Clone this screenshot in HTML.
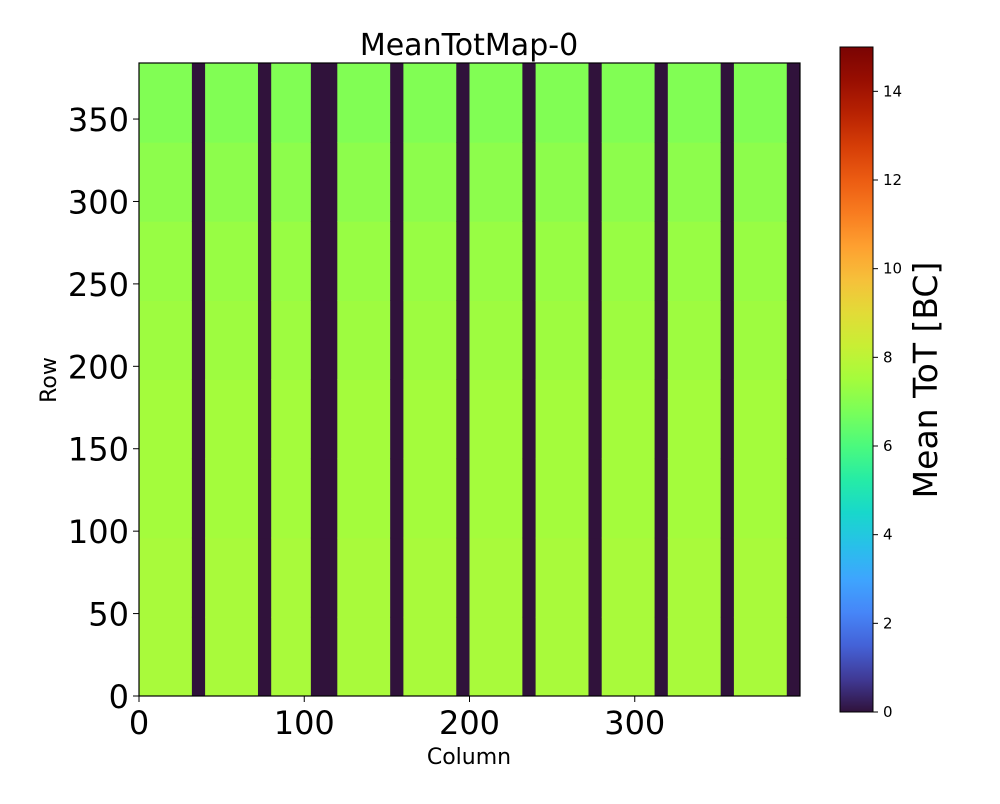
<!DOCTYPE html>
<html><head><meta charset="utf-8">
<style>
body{margin:0;background:#fff;font-family:"DejaVu Sans","Liberation Sans",sans-serif;}
svg text{font-family:"DejaVu Sans","Liberation Sans",sans-serif;fill:#000;}
</style></head>
<body>
<svg id="chart" width="1000" height="800">
<defs>
<linearGradient id="cbgrad" x1="0" y1="1" x2="0" y2="0"></linearGradient>
</defs>
<text x="469" y="55" font-size="30" text-anchor="middle">MeanTotMap-0</text>
<g id="cells"></g>
<rect x="139" y="63" width="661" height="633" fill="none" stroke="#000" stroke-width="1.2"/>
<g id="xaxis"></g>
<g id="yaxis"></g>
<text x="469" y="764" font-size="22" text-anchor="middle">Column</text>
<text transform="translate(56,380) rotate(-90)" font-size="22" text-anchor="middle">Row</text>
<rect x="840" y="47" width="33" height="665" fill="url(#cbgrad)" stroke="#000" stroke-width="1"/>
<g id="cbaxis"></g>
<text transform="translate(937,380) rotate(-90)" font-size="33" text-anchor="middle">Mean ToT [BC]</text>
</svg>
<script>
// Column segments and whether active
const segStarts = [0, 32, 40, 72, 80, 104, 120, 152, 160, 192, 200, 232, 240, 272, 280, 312, 320, 352, 360, 392];
const segEnds   = [32, 40, 72, 80, 104, 120, 152, 160, 192, 200, 232, 240, 272, 280, 312, 320, 352, 360, 392, 400];
const segActive = [1, 0, 1, 0, 1, 0, 1, 0, 1, 0, 1, 0, 1, 0, 1, 0, 1, 0, 1, 0];
// Row bands (bottom to top) with mean ToT
const rowStarts = [0, 48, 96, 144, 192, 240, 288, 336];
const rowMeans  = [7.6, 7.6, 7.5, 7.5, 7.4, 7.3, 7.1, 6.9];
const rowBand = 48;
const xTicks = [0, 100, 200, 300];
const yTicks = [0, 50, 100, 150, 200, 250, 300, 350];
const cbTicks = [0, 2, 4, 6, 8, 10, 12, 14];
const NS = "http://www.w3.org/2000/svg";
const X0 = 139, PXC = 661/400, Y0 = 696, PXR = 633/384;
const xs = c => X0 + c*PXC, ys = r => Y0 - r*PXR;
const cbY = v => 712 - v*(665/15);
const turboStops = [[48,18,59],[64,58,150],[68,98,215],[70,134,248],[62,165,254],[40,192,233],[24,216,203],[38,236,165],[75,250,125],[120,254,90],[164,252,60],[200,239,52],[226,219,55],[246,192,58],[254,160,48],[248,124,32],[236,92,18],[214,62,7],[184,34,2],[152,14,1],[122,4,3]];
function turbo(t){
  t=Math.max(0,Math.min(1,t));
  const p=t*20, i=Math.min(19,Math.floor(p)), f=p-i;
  const a=turboStops[i], b=turboStops[i+1];
  const c=k=>Math.round(a[k]+(b[k]-a[k])*f);
  return `rgb(${c(0)},${c(1)},${c(2)})`;
}
const cells=document.getElementById('cells');
for(let i=0;i<segStarts.length;i++){
  for(let j=0;j<rowStarts.length;j++){
    const v = segActive[i] ? rowMeans[j] : 0;
    const r=document.createElementNS(NS,'rect');
    const x1=xs(segStarts[i]), x2=xs(segEnds[i]);
    const y1=ys(rowStarts[j]+rowBand), y2=ys(rowStarts[j]);
    r.setAttribute('x',x1);r.setAttribute('y',y1);
    r.setAttribute('width',x2-x1+0.5);r.setAttribute('height',y2-y1+0.5);
    r.setAttribute('fill',turbo(v/15));
    
    
    cells.appendChild(r);
  }
}
function line(g,x1,y1,x2,y2){const l=document.createElementNS(NS,'line');l.setAttribute('x1',x1);l.setAttribute('y1',y1);l.setAttribute('x2',x2);l.setAttribute('y2',y2);l.setAttribute('stroke','#000');l.setAttribute('stroke-width','1');g.appendChild(l);return l;}
function text(g,x,y,s,size,anchor){const t=document.createElementNS(NS,'text');t.setAttribute('x',x);t.setAttribute('y',y);t.setAttribute('font-size',size);t.setAttribute('text-anchor',anchor);t.textContent=s;g.appendChild(t);return t;}
const xa=document.getElementById('xaxis');
xTicks.forEach(v=>{const x=xs(v);
  const l=line(xa,x,696,x,702);
  
  
  const t=text(xa,x,734,v,32,'middle');
  
  });
const ya=document.getElementById('yaxis');
yTicks.forEach(v=>{const y=ys(v);
  const l=line(ya,133,y,139,y);
  
  
  const t=text(ya,129,y+12,v,32,'end');
  
  });
const ca=document.getElementById('cbaxis');
cbTicks.forEach(v=>{const y=cbY(v);
  const l=line(ca,873,y,878,y);
  
  
  const t=text(ca,883,y+5,v,15,'start');
  
  });
const grad=document.getElementById('cbgrad');
for(let k=0;k<=40;k++){const s=document.createElementNS(NS,'stop');s.setAttribute('offset',k/40);s.setAttribute('stop-color',turbo(k/40));grad.appendChild(s);}
</script>
</body></html>
